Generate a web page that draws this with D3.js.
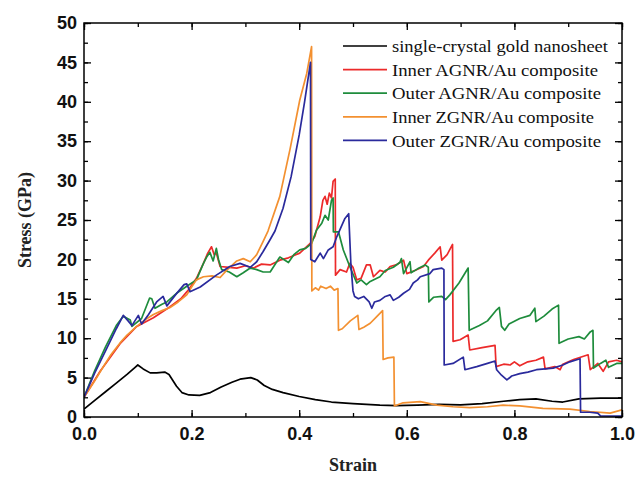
<!DOCTYPE html>
<html>
<head>
<meta charset="utf-8">
<script src="https://cdn.jsdelivr.net/npm/d3@7"></script>
<style>
  html, body { margin: 0; padding: 0; background: #fff; }
  svg { display: block; }
</style>
</head>
<body>
<svg id="chart" width="638" height="478"></svg>
<script>
// Stress-strain curves, [strain, stress (GPa)]
const goldSheet = [
  [0,1.0],[0.02,2.1],[0.04,3.2],[0.06,4.3],[0.08,5.4],[0.095,6.3],[0.10,6.6],[0.11,6.1],
  [0.123,5.6],[0.135,5.6],[0.15,5.7],[0.158,5.4],[0.172,3.9],[0.182,3.1],[0.195,2.8],
  [0.215,2.75],[0.235,3.1],[0.255,3.8],[0.275,4.4],[0.29,4.8],[0.31,5.0],[0.322,4.7],
  [0.335,4.0],[0.35,3.5],[0.37,3.1],[0.40,2.6],[0.43,2.2],[0.46,1.9],[0.50,1.7],
  [0.55,1.5],[0.58,1.45],[0.62,1.5],[0.66,1.6],[0.70,1.55],[0.74,1.7],[0.78,2.0],
  [0.81,2.2],[0.84,2.3],[0.87,2.0],[0.89,1.9],[0.92,2.3],[0.96,2.4],[1.0,2.4]
];
const innerAGNR = [
  [0,2.5],[0.03,5.8],[0.067,9.3],[0.098,11.5],[0.129,12.6],[0.16,14.0],[0.18,15.0],
  [0.195,16.2],[0.209,17.6],[0.222,19.5],[0.23,20.8],[0.237,21.6],[0.242,20.6],[0.246,20.8],
  [0.253,19.1],[0.27,19.0],[0.284,18.9],[0.30,19.2],[0.315,18.9],[0.33,19.4],[0.346,19.3],
  [0.364,19.9],[0.38,20.2],[0.401,20.8],[0.42,22.0],[0.429,22.9],[0.439,25.4],[0.444,27.5],
  [0.448,28.0],[0.452,27.0],[0.456,28.4],[0.46,27.8],[0.463,29.9],[0.467,30.2],[0.4675,18.0],
  [0.476,18.7],[0.488,18.4],[0.494,19.5],[0.50,19.0],[0.507,17.4],[0.515,17.6],[0.525,19.3],
  [0.532,19.3],[0.538,17.8],[0.55,18.6],[0.56,18.4],[0.569,19.1],[0.58,19.3],[0.594,19.9],
  [0.60,18.2],[0.615,18.6],[0.631,19.1],[0.64,19.9],[0.652,20.8],[0.662,21.6],[0.665,19.9],
  [0.675,20.6],[0.685,21.9],[0.686,9.6],[0.699,9.8],[0.714,10.4],[0.717,8.5],[0.74,8.8],
  [0.764,9.1],[0.766,6.4],[0.78,6.7],[0.792,6.6],[0.80,7.0],[0.81,6.5],[0.825,7.0],[0.84,7.2],
  [0.854,7.6],[0.857,6.1],[0.875,6.4],[0.885,6.0],[0.89,6.7],[0.91,7.3],[0.937,7.9],[0.941,6.0],
  [0.955,6.8],[0.965,5.8],[0.975,7.0],[0.99,7.2],[1.0,7.0]
];
const outerAGNR = [
  [0,2.5],[0.02,5.9],[0.04,8.9],[0.06,11.6],[0.073,12.8],[0.086,12.3],[0.089,11.5],[0.107,12.5],
  [0.122,15.1],[0.126,15.0],[0.132,13.8],[0.145,14.3],[0.154,14.6],[0.172,15.7],[0.191,16.6],
  [0.209,17.4],[0.222,19.5],[0.228,20.3],[0.234,20.9],[0.24,19.8],[0.246,21.4],[0.25,20.0],
  [0.256,18.7],[0.27,18.4],[0.284,17.8],[0.296,18.3],[0.309,18.9],[0.321,18.7],[0.333,18.4],
  [0.346,18.4],[0.364,20.3],[0.38,19.6],[0.39,20.6],[0.401,21.2],[0.412,21.4],[0.423,22.0],
  [0.432,23.7],[0.442,24.6],[0.448,25.6],[0.454,25.0],[0.46,27.5],[0.463,27.8],[0.4635,23.5],
  [0.473,23.5],[0.482,21.2],[0.494,19.1],[0.507,17.0],[0.515,17.4],[0.525,16.8],[0.532,17.2],
  [0.55,17.8],[0.56,18.6],[0.575,19.0],[0.587,19.6],[0.59,20.1],[0.594,18.2],[0.606,19.7],
  [0.608,18.3],[0.62,18.8],[0.634,19.3],[0.64,19.0],[0.641,14.6],[0.65,15.2],[0.665,15.3],
  [0.672,14.9],[0.68,15.5],[0.697,17.0],[0.714,18.9],[0.716,11.0],[0.735,11.6],[0.75,12.2],
  [0.767,13.6],[0.772,13.9],[0.776,11.5],[0.782,11.0],[0.79,11.8],[0.81,12.5],[0.829,12.9],
  [0.838,13.8],[0.84,12.1],[0.855,12.8],[0.87,13.7],[0.882,14.2],[0.883,9.35],[0.90,9.9],
  [0.92,10.2],[0.93,9.9],[0.941,10.8],[0.946,11.0],[0.947,6.2],[0.96,6.8],[0.97,7.2],
  [0.975,6.3],[0.99,6.8],[1.0,6.8]
];
const innerZGNR = [
  [0,2.5],[0.02,4.6],[0.036,6.4],[0.05,7.9],[0.067,9.4],[0.08,10.4],[0.098,11.5],[0.115,12.4],
  [0.129,13.0],[0.145,13.5],[0.16,13.9],[0.175,14.6],[0.191,15.5],[0.20,16.5],[0.209,17.4],
  [0.222,17.8],[0.238,17.9],[0.253,17.7],[0.265,18.6],[0.284,19.8],[0.296,20.1],[0.309,19.7],
  [0.321,20.6],[0.333,22.3],[0.342,23.6],[0.364,28.0],[0.383,34.0],[0.401,40.2],[0.414,43.6],
  [0.423,47.0],[0.4235,16.0],[0.43,16.4],[0.436,16.1],[0.44,16.6],[0.45,16.3],[0.458,16.6],
  [0.465,16.1],[0.472,16.3],[0.473,11.0],[0.48,11.2],[0.495,12.2],[0.509,12.9],[0.511,11.1],
  [0.52,11.4],[0.532,11.9],[0.545,12.8],[0.555,13.5],[0.556,7.3],[0.565,7.5],[0.576,7.6],
  [0.577,1.4],[0.593,1.8],[0.625,1.95],[0.656,1.5],[0.686,1.3],[0.717,1.2],[0.75,1.3],
  [0.779,1.5],[0.81,1.4],[0.853,1.1],[0.903,1.0],[0.94,0.7],[0.978,0.5],[1.0,0.9]
];
const outerZGNR = [
  [0,2.5],[0.02,5.6],[0.04,8.4],[0.06,11.2],[0.073,12.9],[0.082,12.2],[0.089,11.6],[0.101,12.9],
  [0.107,11.8],[0.12,13.0],[0.135,14.6],[0.147,15.3],[0.154,14.1],[0.17,15.5],[0.186,16.8],
  [0.191,16.9],[0.197,15.9],[0.216,16.5],[0.246,18.0],[0.271,19.1],[0.29,19.5],[0.309,19.0],
  [0.321,19.7],[0.333,21.0],[0.345,22.4],[0.355,23.6],[0.37,26.5],[0.385,30.5],[0.40,35.8],
  [0.41,40.0],[0.421,45.0],[0.4215,20.0],[0.429,19.7],[0.439,20.8],[0.445,20.1],[0.454,21.2],
  [0.463,21.6],[0.47,22.9],[0.485,25.2],[0.492,25.8],[0.496,19.5],[0.50,16.0],[0.503,15.3],
  [0.51,15.0],[0.52,15.3],[0.53,14.6],[0.535,13.8],[0.54,14.6],[0.55,14.8],[0.56,15.3],
  [0.569,15.5],[0.575,14.8],[0.585,15.2],[0.594,15.7],[0.605,16.2],[0.612,17.0],[0.62,17.4],
  [0.625,17.8],[0.643,18.2],[0.649,18.7],[0.665,18.9],[0.669,18.7],[0.6695,6.6],[0.686,6.8],
  [0.705,7.6],[0.708,6.0],[0.73,6.4],[0.75,6.8],[0.764,7.1],[0.767,6.0],[0.776,5.3],[0.786,4.7],
  [0.795,5.2],[0.81,5.5],[0.825,5.7],[0.841,6.0],[0.857,6.1],[0.872,6.2],[0.89,6.6],[0.903,7.0],
  [0.922,7.4],[0.923,0.6],[0.94,0.6],[0.955,0.5],[0.96,0.15],[1.0,0.1]
];

const seriesNames = [
  "single-crystal gold nanosheet",
  "Inner AGNR/Au composite",
  "Outer AGNR/Au composite",
  "Inner ZGNR/Au composite",
  "Outer ZGNR/Au composite"
];
const seriesData = [goldSheet, innerAGNR, outerAGNR, innerZGNR, outerZGNR];
const seriesColors = ["#000000", "#ec2a2a", "#1e8c3c", "#f39030", "#2a2a9c"];

const xTicks = [0.0, 0.2, 0.4, 0.6, 0.8, 1.0];
const yTicks = [0, 5, 10, 15, 20, 25, 30, 35, 40, 45, 50];

const svg = d3.select("#chart");
const margin = { left: 84, right: 16, top: 23, bottom: 61 };
const W = 638, H = 478;

const x = d3.scaleLinear().domain([0, 1]).range([margin.left, W - margin.right]);
const y = d3.scaleLinear().domain([0, 50]).range([H - margin.bottom, margin.top]);

// Clip curves to the plot frame
svg.append("defs").append("clipPath").attr("id", "plotClip")
  .append("rect")
  .attr("x", x(0)).attr("y", y(50))
  .attr("width", x(1) - x(0)).attr("height", y(0) - y(50));

const line = d3.line().x(d => x(d[0])).y(d => y(d[1]));

const curves = svg.append("g").attr("clip-path", "url(#plotClip)");
seriesData.forEach((data, i) => {
  curves.append("path")
    .datum(data)
    .attr("fill", "none")
    .attr("stroke", seriesColors[i])
    .attr("stroke-width", 1.7)
    .attr("stroke-linejoin", "round")
    .attr("d", line);
});

// Axes with inward ticks on all four sides
const tickFont = "'Liberation Sans', Arial, sans-serif";
const minorX = d3.range(0, 1.0001, 0.1);
const minorY = d3.range(0, 50.001, 2.5);

function styleAxis(g) {
  g.select(".domain").remove();
  g.selectAll("line").attr("stroke", "#000").attr("stroke-width", 1.3);
}

// bottom
svg.append("g").attr("transform", `translate(0,${y(0)})`)
  .call(d3.axisBottom(x).tickValues(minorX).tickSizeInner(-4).tickSizeOuter(0).tickFormat(""))
  .call(styleAxis);
svg.append("g").attr("transform", `translate(0,${y(0)})`)
  .call(d3.axisBottom(x).tickValues(xTicks).tickSizeInner(-7).tickSizeOuter(0)
    .tickPadding(10).tickFormat(d3.format(".1f")))
  .call(styleAxis)
  .call(g => g.selectAll("text")
    .attr("font-family", tickFont).attr("font-weight", "bold")
    .attr("font-size", 18).attr("fill", "#111"));
// top
svg.append("g").attr("transform", `translate(0,${y(50)})`)
  .call(d3.axisTop(x).tickValues(minorX).tickSizeInner(-4).tickSizeOuter(0).tickFormat(""))
  .call(styleAxis);
svg.append("g").attr("transform", `translate(0,${y(50)})`)
  .call(d3.axisTop(x).tickValues(xTicks).tickSizeInner(-7).tickSizeOuter(0).tickFormat(""))
  .call(styleAxis);
// left
svg.append("g").attr("transform", `translate(${x(0)},0)`)
  .call(d3.axisLeft(y).tickValues(minorY).tickSizeInner(-4).tickSizeOuter(0).tickFormat(""))
  .call(styleAxis);
svg.append("g").attr("transform", `translate(${x(0)},0)`)
  .call(d3.axisLeft(y).tickValues(yTicks).tickSizeInner(-7).tickSizeOuter(0)
    .tickPadding(7).tickFormat(d3.format("d")))
  .call(styleAxis)
  .call(g => g.selectAll("text")
    .attr("font-family", tickFont).attr("font-weight", "bold")
    .attr("font-size", 18).attr("fill", "#111"));
// right
svg.append("g").attr("transform", `translate(${x(1)},0)`)
  .call(d3.axisRight(y).tickValues(minorY).tickSizeInner(-4).tickSizeOuter(0).tickFormat(""))
  .call(styleAxis);
svg.append("g").attr("transform", `translate(${x(1)},0)`)
  .call(d3.axisRight(y).tickValues(yTicks).tickSizeInner(-7).tickSizeOuter(0).tickFormat(""))
  .call(styleAxis);

// Frame
svg.append("rect")
  .attr("x", x(0)).attr("y", y(50))
  .attr("width", x(1) - x(0)).attr("height", y(0) - y(50))
  .attr("fill", "none").attr("stroke", "#000").attr("stroke-width", 1.5);

// Axis titles
const titleFont = "'Liberation Serif', 'Times New Roman', serif";
svg.append("text")
  .attr("x", (x(0) + x(1)) / 2).attr("y", 471)
  .attr("text-anchor", "middle")
  .attr("font-family", titleFont).attr("font-weight", "bold").attr("font-size", 18)
  .attr("fill", "#222")
  .text("Strain");
svg.append("text")
  .attr("transform", `translate(31,${(y(0) + y(50)) / 2}) rotate(-90)`)
  .attr("text-anchor", "middle")
  .attr("font-family", titleFont).attr("font-weight", "bold").attr("font-size", 18)
  .attr("fill", "#222")
  .text("Stress (GPa)");

// Legend
const legendWidths = [216, 206, 209, 202, 209];
const legend = svg.append("g");
seriesNames.forEach((name, i) => {
  const ly = 46 + i * 23.6;
  legend.append("line")
    .attr("x1", 343).attr("x2", 387).attr("y1", ly).attr("y2", ly)
    .attr("stroke", seriesColors[i]).attr("stroke-width", 1.7);
  legend.append("text")
    .attr("x", 392).attr("y", ly).attr("dy", "0.35em")
    .attr("font-family", titleFont).attr("font-size", 17.5).attr("fill", "#111")
    .attr("textLength", legendWidths[i]).attr("lengthAdjust", "spacingAndGlyphs")
    .text(name);
});
</script>
</body>
</html>
